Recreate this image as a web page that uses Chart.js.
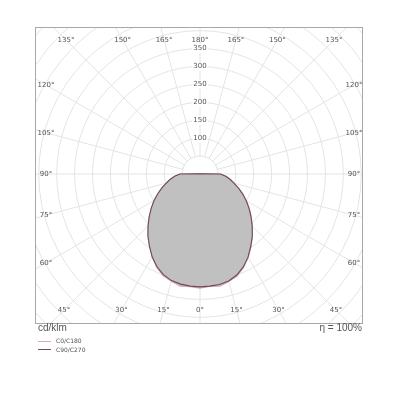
<!DOCTYPE html>
<html><head><meta charset="utf-8">
<script src="https://cdn.jsdelivr.net/npm/chart.js@4/dist/chart.umd.min.js"></script>
<style>
html,body{margin:0;padding:0;background:#fff;}
body{width:400px;height:400px;position:relative;overflow:hidden;}
#frame{position:absolute;left:35px;top:27px;width:328px;height:297px;border:1px solid #a8a8a8;box-sizing:border-box;overflow:hidden;background:#fff;}
#c{position:absolute;left:0;top:0;}
#unit{position:absolute;left:38px;top:322px;font:10px "Liberation Sans",Arial,sans-serif;color:#555;}
#eta{position:absolute;right:38px;top:322px;font:10px "Liberation Sans",Arial,sans-serif;color:#555;}
#legend{position:absolute;left:38px;top:337px;font:6px "DejaVu Sans",sans-serif;color:#555;}
#legend div{height:8.5px;line-height:8.5px;white-space:nowrap;}
#legend span.l{display:inline-block;width:13px;height:0;border-top:1px solid;vertical-align:middle;margin-right:5px;}
</style></head>
<body>
<div id="frame"><canvas id="c" width="439" height="444"></canvas></div>
<div id="unit">cd/klm</div>
<div id="eta">η = 100%</div>
<div id="legend"></div>
<script>
// gamma angles (degrees) for the measured intensity values
const gammaDeg = [0,5,10,15,20,25,30,35,40,45,50,55,60,65,70,75,80,85,90,95,100,105,110,115,120,125,130,135,140,145,150,155,160,165,170,175,180];
// intensities in cd/klm
const c0   = [319,315,318,311,303,288,269,248,228,207,187,168,150,132,115,99,86,73,58,6,2,1,1,1,1,1,1,1,1,1,1,1,1,1,1,1,1];
const c180 = [319,316,318,310,302,287,267,246,226,205,185,166,148,130,113,97,84,71,56,6,2,1,1,1,1,1,1,1,1,1,1,1,1,1,1,1,1];
const c90  = [315,314,313,309,300,286,268,247,227,206,186,167,149,131,114,98,85,72,57,6,2,1,1,1,1,1,1,1,1,1,1,1,1,1,1,1,1];
const c270 = [315,314,312,308,299,285,267,246,226,205,185,166,148,130,113,97,84,71,56,6,2,1,1,1,1,1,1,1,1,1,1,1,1,1,1,1,1];
// radial tick values shown
const radialTicks = [100,150,200,250,300,350];
// angle labels clockwise from top, every 15 degrees
const angleTickLabels = ['180°','165°','150°','135°','120°','105°','90°','75°','60°','45°','30°','15°','0°','15°','30°','45°','60°','75°','90°','105°','120°','135°','150°','165°'];
const seriesNames = ['C0/C180','C90/C270'];
const seriesColors = ['#e0a7ae','#6a4a5c'];

// build the full 360° ring: index 0 at top, clockwise; right half = C0/C90, left half = C180/C270
const n = gammaDeg.length - 1; // 36
const ringLabels = [];
function ring(right, left){
  const out = [];
  for (let j = 0; j < 2*n; j++){
    if (j <= n) out.push(right[n - j]); else out.push(left[j - n]);
  }
  return out;
}
for (let j = 0; j < 2*n; j++) ringLabels.push(j <= n ? gammaDeg[n-j] : gammaDeg[j-n]);

const innerDiskPlugin = {
  id: 'innerDisk',
  beforeDatasetsDraw(chart){
    const r = chart.scales.r, ctx = chart.ctx;
    const rad = r.getDistanceFromCenterForValue(50);
    ctx.save();
    ctx.beginPath();
    ctx.arc(r.xCenter, r.yCenter, rad, 0, Math.PI*2);
    ctx.fillStyle = '#ffffff';
    ctx.fill();
    ctx.strokeStyle = '#e4e4e4';
    ctx.lineWidth = 1;
    ctx.stroke();
    ctx.restore();
  }
};

const angleLabelPlugin = {
  id: 'angleLabels',
  afterDraw(chart){
    const r = chart.scales.r, ctx = chart.ctx;
    ctx.save();
    ctx.font = '7px "DejaVu Sans", sans-serif';
    ctx.fillStyle = '#555';
    ctx.textAlign = 'center';
    ctx.textBaseline = 'middle';
    const L = 154, R = 154, T = 134, B = 136;
    angleTickLabels.forEach((lab, k) => {
      const a = r.getIndexAngle(k*3) - Math.PI/2;
      const dx = Math.cos(a), dy = Math.sin(a);
      let t = Infinity;
      if (dx > 1e-9) t = Math.min(t, R/dx);
      if (dx < -1e-9) t = Math.min(t, L/-dx);
      if (dy > 1e-9) t = Math.min(t, B/dy);
      if (dy < -1e-9) t = Math.min(t, T/-dy);
      ctx.fillText(lab, r.xCenter + dx*t, r.yCenter + dy*t);
    });
    ctx.restore();
  }
};

const chart = new Chart(document.getElementById('c'), {
  type: 'radar',
  data: {
    labels: ringLabels,
    datasets: [
      {label: seriesNames[0], data: ring(c0, c180), borderColor: seriesColors[0], backgroundColor: '#c0c0c0', fill: 'origin', borderWidth: 1.1, pointRadius: 0, tension: 0, order: 2},
      {label: seriesNames[1], data: ring(c90, c270), borderColor: seriesColors[1], backgroundColor: '#c0c0c0', fill: 'origin', borderWidth: 1.1, pointRadius: 0, tension: 0, order: 1}
    ]
  },
  options: {
    responsive: false,
    animation: false,
    layout: {padding: 0},
    plugins: {legend: {display: false}, tooltip: {enabled: false}},
    scales: {
      r: {
        min: 0, max: 600,
        startAngle: 0,
        angleLines: {display: true, color: (c) => (c.index % 3 === 0 ? '#e4e4e4' : 'transparent'), lineWidth: 1},
        grid: {circular: true, color: '#e4e4e4', lineWidth: 1},
        pointLabels: {display: false},
        ticks: {
          stepSize: 50,
          font: {family: 'DejaVu Sans', size: 7},
          color: '#555',
          showLabelBackdrop: true,
          backdropPadding: 1,
          backdropColor: (c) => (c.tick && radialTicks.includes(c.tick.value) ? '#ffffff' : 'rgba(0,0,0,0)'),
          callback: (v) => (radialTicks.includes(v) ? String(v) : '')
        }
      }
    }
  },
  plugins: [innerDiskPlugin, angleLabelPlugin]
});

// place the canvas so the pole sits at page (200,174)
const rs = chart.scales.r;
const cv = document.getElementById('c');
cv.style.left = (200 - 36 - rs.xCenter) + 'px';
cv.style.top = (174 - 28 - rs.yCenter) + 'px';

// legend from dataset definitions
const lg = document.getElementById('legend');
chart.data.datasets.forEach(ds => {
  const d = document.createElement('div');
  const s = document.createElement('span'); s.className = 'l'; s.style.borderColor = ds.borderColor;
  d.appendChild(s); d.appendChild(document.createTextNode(ds.label));
  lg.appendChild(d);
});
</script>
</body></html>
